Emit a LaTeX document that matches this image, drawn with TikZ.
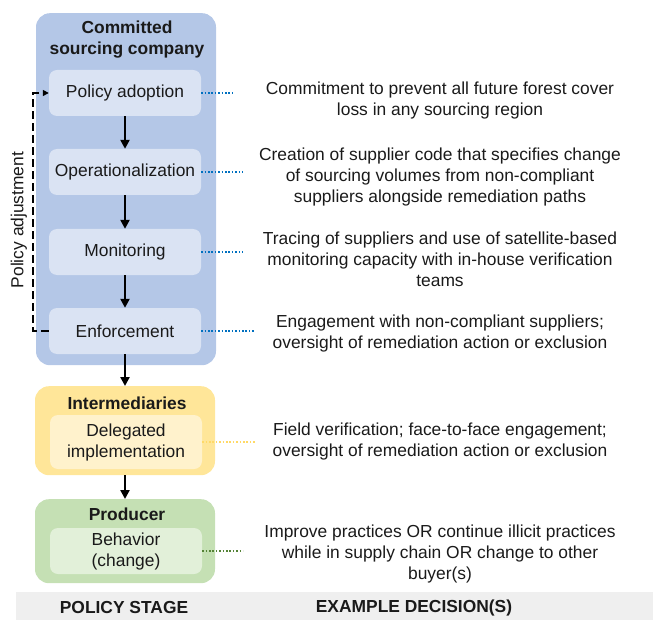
\documentclass[tikz,border=0pt]{standalone}
\usepackage{fontspec}
\setmainfont{Liberation Sans}
\usetikzlibrary{arrows.meta}
\definecolor{blueout}{HTML}{B4C7E7}
\definecolor{bluein}{HTML}{DAE3F3}
\definecolor{yellowout}{HTML}{FFE699}
\definecolor{yellowin}{HTML}{FFF2CC}
\definecolor{greenout}{HTML}{C5E0B4}
\definecolor{greenin}{HTML}{E2F0D9}
\definecolor{bluedot}{HTML}{0070C0}
\definecolor{yellowdot}{HTML}{FFD966}
\definecolor{greendot}{HTML}{548235}
\definecolor{barfill}{HTML}{EFEFEF}
\definecolor{ink}{HTML}{1A1A1A}
\begin{document}
\begin{tikzpicture}[x=1pt, y=-1pt,
        every node/.style={font=\fontsize{17.4}{21}\selectfont, text=ink},
        outerbox/.style={rounded corners=14pt, minimum width=180pt, anchor=north},
        innerbox/.style={rounded corners=8pt, minimum width=152pt, minimum height=46pt, align=center},
        heading/.style={font=\fontsize{17.4}{21}\selectfont\bfseries, align=center},
        flow/.style={line width=2.4pt, -{Triangle[length=9pt, width=9pt]}},
        link/.style={line width=1.6pt, dash pattern=on 1.6pt off 1.8pt}]
                \useasboundingbox (0, 0) rectangle (655, 620);
                \node[outerbox, fill=blueout, minimum height=352pt] (company) at (126, 13){};
                \node[heading] (companytitle) at (127, 40){Committed\\sourcing company};
                \node[innerbox, fill=bluein] (adoption) at (125, 93){Policy adoption};
                \node[innerbox, fill=bluein] (operational) at (125, 172){Operationalization};
                \node[innerbox, fill=bluein] (monitoring) at (125, 252){Monitoring};
                \node[innerbox, fill=bluein] (enforcement) at (125, 331){Enforcement};
                \node[outerbox, fill=yellowout, minimum height=89pt] (intermediaries) at (125, 386){};
                \node[heading] (intertitle) at (127, 403){Intermediaries};
                \node[innerbox, fill=yellowin, minimum height=54pt] (delegated) at (126, 442){Delegated\\implementation};
                \node[outerbox, fill=greenout, minimum height=84pt] (producer) at (125, 499){};
                \node[heading] (producertitle) at (127, 514){Producer};
                \node[innerbox, fill=greenin] (behavior) at (126, 551){Behavior\\(change)};
                \draw[flow] (adoption) -- (operational);
                \draw[flow] (operational) -- (monitoring);
                \draw[flow] (monitoring) -- (enforcement);
                \draw[flow] (enforcement) -- (intermediaries);
                \draw[flow] (intermediaries) -- (producer);
                \coordinate (adjline) at (33, 0);
                \draw[line width=2pt, dash pattern=on 8pt off 4pt, -{Triangle[length=6pt, width=6pt]}]
                        (enforcement.west) -- (enforcement.west -| adjline) -- (adoption.west -| adjline) -- (adoption.west);
                \node[rotate=90] (adjlabel) at (19, 220){Policy adjustment};
                \node (adoptiontext) at (440, 101)[align=center]{Commitment to prevent all future forest cover\\loss in any sourcing region};
                \node (operationaltext) at (440, 177)[align=center]{Creation of supplier code that specifies change\\of sourcing volumes from non-compliant\\suppliers alongside remediation paths};
                \node (monitoringtext) at (440, 259)[align=center]{Tracing of suppliers and use of satellite-based\\monitoring capacity with in-house verification\\teams};
                \node (enforcementtext) at (440, 333)[align=center]{Engagement with non-compliant suppliers;\\oversight of remediation action or exclusion};
                \node (delegatedtext) at (440, 441)[align=center]{Field verification; face-to-face engagement;\\oversight of remediation action or exclusion};
                \node (behaviortext) at (440, 554)[align=center]{Improve practices OR continue illicit practices\\while in supply chain OR change to other\\buyer(s)};
                \coordinate (adoptionend) at (235, 93);
                \coordinate (operationalend) at (243, 172);
                \coordinate (monitoringend) at (243, 252);
                \coordinate (enforcementend) at (255, 331);
                \coordinate (delegatedend) at (255, 442);
                \coordinate (behaviorend) at (243, 551);
                \draw[link, bluedot] (adoption.east) -- (adoptionend);
                \draw[link, bluedot] (operational.east) -- (operationalend);
                \draw[link, bluedot] (monitoring.east) -- (monitoringend);
                \draw[link, bluedot] (enforcement.east) -- (enforcementend);
                \draw[link, yellowdot] (delegated.east) -- (delegatedend);
                \draw[link, greendot] (behavior.east) -- (behaviorend);
                \node[fill=barfill, minimum width=637pt, minimum height=28pt, anchor=north west] (bar) at (16, 592){};
                \node[heading] (stagehead) at (124, 608){POLICY STAGE};
                \node[heading] (decisionhead) at (414, 608){EXAMPLE DECISION(S)};
        \end{tikzpicture}
\end{document}
